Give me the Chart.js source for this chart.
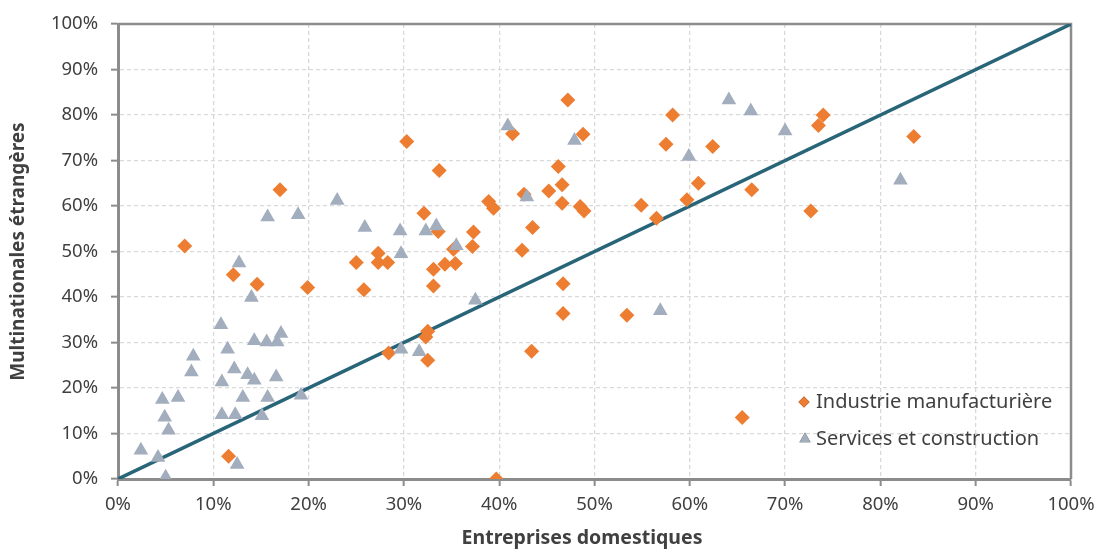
<!DOCTYPE html>
<html><head><meta charset="utf-8">
<script src="https://cdn.jsdelivr.net/npm/chart.js@4/dist/chart.umd.min.js"></script>
<style>html,body{margin:0;padding:0;background:#fff;}#wrap{width:1103px;height:553px;}</style>
</head><body><div id="wrap"><canvas id="c" width="1103" height="553"></canvas></div>
<script>
// ---- data ----
const seriesNames = ['Industrie manufacturière', 'Services et construction'];
const xTitle = 'Entreprises domestiques';
const yTitle = 'Multinationales étrangères';
const tickPercents = [0,10,20,30,40,50,60,70,80,90,100];

const indX = [7.0,17.0,12.1,14.6,19.9,11.6,30.3,25.0,25.8,27.3,27.3,28.3,28.4,32.1,32.5,32.3,32.5,33.1,33.1,33.6,33.7,34.3,35.4,37.3,37.2,38.9,39.4,39.7,41.4,42.6,42.4,43.5,43.4,45.2,46.2,46.6,46.6,46.7,46.7,47.2,48.5,48.9,48.8,53.4,54.9,56.5,57.5,58.2,59.7,60.9,62.4,65.5,66.5,72.7,73.5,74.0,83.5,35.2];
const indY = [51.2,63.6,44.9,42.8,42.1,5.0,74.2,47.6,41.6,49.6,47.6,47.6,27.7,58.4,32.5,31.2,26.1,46.1,42.4,54.4,67.8,47.2,47.4,54.3,51.1,61.0,59.5,0.0,75.9,62.6,50.3,55.3,28.1,63.3,68.7,64.7,60.6,42.9,36.4,83.3,59.9,58.9,75.8,36.0,60.2,57.3,73.6,80.0,61.4,65.0,73.1,13.5,63.6,58.9,77.7,80.0,75.3,50.5];

const svcX = [15.7,18.9,23.0,25.9,29.6,32.3,33.4,29.7,12.7,14.0,10.8,11.5,7.9,7.7,14.3,15.6,16.7,17.1,12.2,13.6,14.3,16.6,10.9,4.65,6.3,13.1,15.7,19.2,4.9,5.3,10.9,12.3,15.1,2.4,4.2,5.0,12.5,29.7,31.6,35.5,37.5,40.9,42.9,47.9,56.9,59.9,64.1,66.4,70.0,82.1];
const svcY = [57.6,58.1,61.2,55.3,54.5,54.5,55.6,49.5,47.5,39.9,33.9,28.5,27.0,23.5,30.4,30.1,30.1,32.0,24.2,22.9,21.7,22.4,21.3,17.5,17.9,17.9,17.9,18.4,13.6,10.7,14.1,14.1,13.9,6.3,4.7,0.4,3.2,28.5,28.0,51.3,39.3,77.6,62.0,74.4,37.0,70.9,83.3,80.9,76.5,65.7];

const diagX = [0,100];
const diagY = [0,100];

// ---- styles ----
const ORANGE = '#ED7D31';
const GREY = '#A2AEBD';
const LINE = '#296579';
const TXT = '#404040';
const AXIS = '#8C8C8C';
const FONT = "'Noto Sans', sans-serif";

const toPts = (xs, ys) => xs.map((x, i) => ({x: x, y: ys[i]}));

const framePlugin = {
  id: 'frame',
  beforeDatasetsDraw(chart) {
    const {ctx, chartArea: a} = chart;
    ctx.save();
    ctx.strokeStyle = AXIS;
    ctx.lineWidth = 2.5;
    ctx.beginPath();
    ctx.moveTo(a.left, a.top);
    ctx.lineTo(a.right, a.top);
    ctx.lineTo(a.right, a.bottom);
    ctx.stroke();
    ctx.restore();
  }
};

const legendPlugin = {
  id: 'customLegend',
  afterDraw(chart) {
    const ctx = chart.ctx;
    ctx.save();
    const entries = [
      {style: 'rectRot', color: ORANGE, r: 5.5, x: 804, y: 402},
      {style: 'triangle', color: GREY, r: 6.5, x: 805, y: 439}
    ];
    entries.forEach((e, i) => {
      Chart.helpers.drawPoint(ctx, {pointStyle: e.style, radius: e.r, borderWidth: 0, rotation: 0}, e.x, e.y);
      ctx.fillStyle = e.color;
      ctx.fill();
      ctx.fillStyle = TXT;
      ctx.font = "20px " + FONT;
      ctx.textBaseline = 'middle';
      ctx.textAlign = 'left';
      ctx.fillText(seriesNames[i], 816, e.y);
    });
    ctx.font = "bold 19.5px " + FONT;
    ctx.textAlign = 'center';
    ctx.fillText(xTitle, 582, 538);
    ctx.restore();
  }
};

new Chart(document.getElementById('c'), {
  type: 'scatter',
  data: {
    datasets: [
      {
        label: seriesNames[1],
        data: toPts(svcX, svcY),
        pointStyle: 'triangle',
        pointRadius: 8.5,
        pointHoverRadius: 8.5,
        backgroundColor: GREY,
        borderColor: GREY,
        borderWidth: 0,
        order: 1
      },
      {
        label: seriesNames[0],
        data: toPts(indX, indY),
        pointStyle: 'rectRot',
        pointRadius: 7.5,
        pointHoverRadius: 7.5,
        backgroundColor: ORANGE,
        borderColor: ORANGE,
        borderWidth: 0,
        order: 2
      },
      {
        type: 'line',
        label: 'diag',
        data: toPts(diagX, diagY),
        borderColor: LINE,
        borderWidth: 3.5,
        pointRadius: 0,
        showLine: true,
        fill: false,
        order: 3
      }
    ]
  },
  options: {
    responsive: false,
    animation: false,
    devicePixelRatio: 1,
    layout: {padding: {top: 17, right: 32, left: 0, bottom: 0}},
    plugins: {legend: {display: false}, tooltip: {enabled: false}},
    scales: {
      x: {
        type: 'linear', min: 0, max: 100,
        afterBuildTicks: s => { s.ticks = tickPercents.map(v => ({value: v})); },
        afterFit: s => { s.height = 74; },
        ticks: {callback: v => v + '%', color: TXT, font: {family: FONT, size: 18.5}, padding: 8, maxRotation: 0},
        grid: {color: '#D9D9D9', lineWidth: 1.3, tickColor: AXIS, tickLength: 7, tickWidth: 2, tickBorderDash: []},
        border: {display: true, color: AXIS, width: 3, dash: [4, 3]},
        title: {display: false}
      },
      y: {
        type: 'linear', min: 0, max: 100,
        afterBuildTicks: s => { s.ticks = tickPercents.map(v => ({value: v})); },
        afterFit: s => { s.width = 118; },
        ticks: {callback: v => v + '%', color: TXT, font: {family: FONT, size: 18.5}, padding: 13},
        grid: {color: '#D9D9D9', lineWidth: 1.3, tickColor: AXIS, tickLength: 7, tickWidth: 2, tickBorderDash: []},
        border: {display: true, color: AXIS, width: 3, dash: [4, 3]},
        title: {display: true, text: yTitle, color: TXT, font: {family: FONT, size: 19, weight: 'bold'}, padding: {top: 7, bottom: 7}}
      }
    }
  },
  plugins: [framePlugin, legendPlugin]
});
</script>
</body></html>
